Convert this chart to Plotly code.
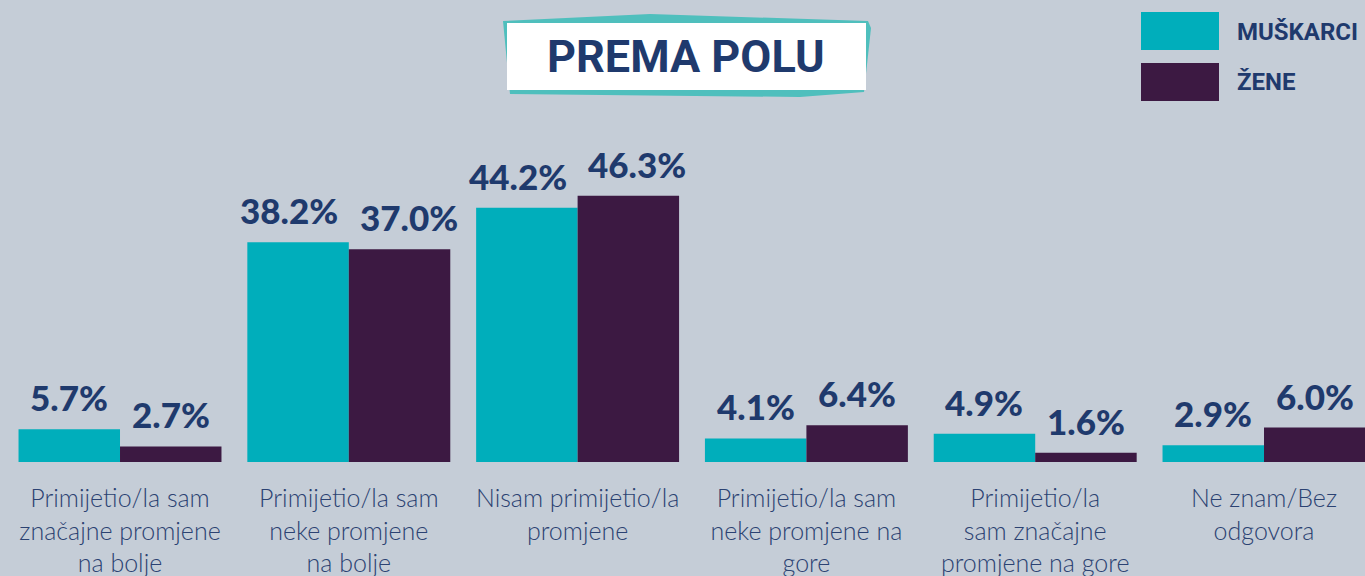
import plotly.graph_objects as go

categories = [
    "Primijetio/la sam<br>značajne promjene<br>na bolje",
    "Primijetio/la sam<br>neke promjene<br>na bolje",
    "Nisam primijetio/la<br>promjene",
    "Primijetio/la sam<br>neke promjene na<br>gore",
    "Primijetio/la<br>sam značajne<br>promjene na gore",
    "Ne znam/Bez<br>odgovora",
]
muskarci = [5.7, 38.2, 44.2, 4.1, 4.9, 2.9]
zene = [2.7, 37.0, 46.3, 6.4, 1.6, 6.0]
series_names = ["MUŠKARCI", "ŽENE"]

W, H = 1365, 576
BASE = 462  # pixel row of the baseline
TEAL = "#00aebb"
PURPLE = "#3c1942"
NAVY = "#1f3a6d"
BG = "#c5cdd7"
BARGAP = 0.113

xs = list(range(len(categories)))

fig = go.Figure()
fig.add_trace(go.Bar(x=xs, y=muskarci, name=series_names[0], marker_color=TEAL,
                     marker_line_width=0))
fig.add_trace(go.Bar(x=xs, y=zene, name=series_names[1], marker_color=PURPLE,
                     marker_line_width=0))

off = (1 - BARGAP) / 4
annotations = []
for vals, sign in ((muskarci, -1), (zene, 1)):
    for i, v in zip(xs, vals):
        wide = min(muskarci[i], zene[i]) >= 10  # both labels wide -> spread apart
        annotations.append(dict(
            x=i + sign * off, y=v, xref="x", yref="y",
            text=f"{v:.1f}%", showarrow=False, yanchor="bottom", xanchor="center",
            yshift=9, xshift=sign * 9 if wide else 0,
            font=dict(family="Lato", size=35, color=NAVY, weight=900),
        ))


def px(x):
    return x / W


def py(y):
    return (BASE - y) / BASE


# title box
teal_pts = [(503, 21), (650, 14), (868, 21), (871, 28), (864, 92), (800, 97), (510, 94)]
path = "M " + " L ".join(f"{px(a):.5f},{py(b):.5f}" for a, b in teal_pts) + " Z"
shapes = [
    dict(type="path", xref="paper", yref="paper", path=path,
         fillcolor="#4fbfbd", line_width=0, layer="above"),
    dict(type="rect", xref="paper", yref="paper", x0=px(507), x1=px(866),
         y0=py(90), y1=py(23), fillcolor="white", line_width=0, layer="above"),
    # legend swatches
    dict(type="rect", xref="paper", yref="paper", x0=px(1141), x1=px(1219),
         y0=py(50), y1=py(12), fillcolor=TEAL, line_width=0, layer="above"),
    dict(type="rect", xref="paper", yref="paper", x0=px(1141), x1=px(1219),
         y0=py(101), y1=py(63), fillcolor=PURPLE, line_width=0, layer="above"),
]
annotations.append(dict(x=px(686), y=py(57), xref="paper", yref="paper",
                        xanchor="center", yanchor="middle",
                        text="PREMA POLU", showarrow=False,
                        font=dict(family="Roboto", size=45, color=NAVY, weight="bold")))
annotations.append(dict(x=px(1235), y=py(32), xref="paper", yref="paper",
                        xanchor="left", yanchor="middle", text=series_names[0], showarrow=False,
                        font=dict(family="Roboto", size=24, color=NAVY, weight="bold")))
annotations.append(dict(x=px(1235), y=py(82), xref="paper", yref="paper",
                        xanchor="left", yanchor="middle", text=series_names[1], showarrow=False,
                        font=dict(family="Roboto", size=24, color=NAVY, weight="bold")))

ymax = BASE / 5.75
fig.update_layout(
    width=W, height=H,
    margin=dict(l=0, r=0, t=0, b=H - BASE, pad=0),
    paper_bgcolor=BG, plot_bgcolor=BG,
    barmode="group", bargap=BARGAP, bargroupgap=0,
    showlegend=False,
    shapes=shapes, annotations=annotations,
    xaxis=dict(range=[-0.5245, -0.5245 + W / 228.8], tickvals=xs, ticktext=categories,
               showgrid=False, zeroline=False, showline=False,
               ticks="outside", ticklen=14, tickcolor="rgba(0,0,0,0)",
               tickfont=dict(family="Lato", size=25, color="#2b4272", weight=300)),
    yaxis=dict(range=[0, ymax], visible=False, showgrid=False, zeroline=False),
)
fig.write_html("out.html", config={"displayModeBar": False},
               post_script="document.body.style.margin='0';document.body.style.overflow='hidden';")
